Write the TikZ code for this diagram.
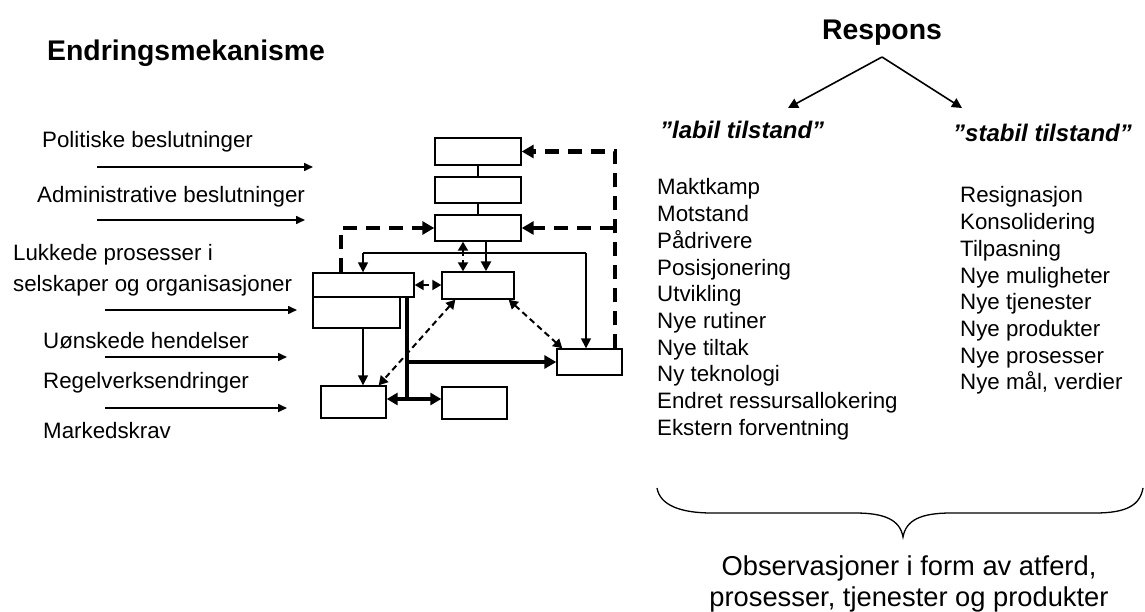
\documentclass[tikz,border=0pt]{standalone}
\usepackage{fontspec}
\setmainfont{Liberation Sans}
\usetikzlibrary{arrows.meta,calc}

\begin{document}
\begin{tikzpicture}[x=1pt,y=-1pt,
  box/.style={draw, line width=1.4pt, fill=white, inner sep=0pt},
  thinline/.style={line width=1.6pt},
  midline/.style={line width=2.6pt},
  heavyline/.style={line width=4.2pt},
  fbdash/.style={line width=4.2pt, dash pattern=on 14pt off 9pt},
  lightdash/.style={line width=2pt, dash pattern=on 6pt off 4pt},
  tip/.style={-{Triangle[length=10pt,width=10pt]}},
  slimtip/.style={-{Triangle[length=9pt,width=8pt]}},
  bigtip/.style={-{Triangle[length=12pt,width=13pt]}},
  twotip/.style={{Triangle[length=9pt,width=10pt]}-{Triangle[length=9pt,width=10pt]}},
  bigtwotip/.style={{Triangle[length=11pt,width=12pt]}-{Triangle[length=11pt,width=12pt]}},
  label/.style={anchor=base west, inner sep=0pt, font=\fontsize{22.3}{26.7}\selectfont},
  title/.style={inner sep=0pt, font=\fontsize{28.4}{33}\selectfont\bfseries},
  state/.style={anchor=base west, inner sep=0pt, font=\fontsize{24}{29}\selectfont\bfseries\itshape},
  bottomtext/.style={anchor=base, inner sep=0pt, font=\fontsize{27.3}{32}\selectfont}
]
\useasboundingbox (0,0) rectangle (1145,612);

% headings
\node[title, anchor=base west] (mech) at (47,61) {Endringsmekanisme};
\node[title, anchor=base] (resp) at (882,40) {Respons};

% external drivers with their arrows
\node[label] (d1) at (42,148) {Politiske beslutninger};
\node[label] (d2) at (37,203) {Administrative beslutninger};
\node[label] (d3a) at (13,261) {Lukkede prosesser i};
\node[label] (d3b) at (13,291) {selskaper og organisasjoner};
\node[label] (d4) at (43,348) {Uønskede hendelser};
\node[label] (d5) at (43,388) {Regelverksendringer};
\node[label] (d6) at (43,438) {Markedskrav};

\coordinate (a1s) at (97,167);  \coordinate (a1e) at (313,167);
\coordinate (a2s) at (97,220);  \coordinate (a2e) at (305,220);
\coordinate (a3s) at (105,310); \coordinate (a3e) at (297,310);
\coordinate (a4s) at (105,357); \coordinate (a4e) at (287,357);
\coordinate (a5s) at (105,408); \coordinate (a5e) at (287,408);
\foreach \i in {1,...,5}{
  \draw[thinline,slimtip] (a\i s) -- (a\i e);
}

% mechanism boxes
\node[box, minimum width=86pt, minimum height=27pt] (B1) at (478,151.5) {};
\node[box, minimum width=86pt, minimum height=26pt] (B2) at (478,190) {};
\node[box, minimum width=86pt, minimum height=26pt] (B3) at (478,228) {};
\node[box, minimum width=87pt, minimum height=31pt] (B5) at (356.5,312.5) {};
\node[box, minimum width=101pt, minimum height=24pt] (B4) at (363.5,285) {};
\node[box, minimum width=72pt, minimum height=27pt] (B6) at (478,285.5) {};
\node[box, minimum width=65pt, minimum height=26pt] (B7) at (589.5,362) {};
\node[box, minimum width=65pt, minimum height=32pt] (B8) at (353.5,402) {};
\node[box, minimum width=65pt, minimum height=32pt] (B9) at (474.5,403) {};

% stacked links at the top
\draw[line width=1.3pt] (B1.south) -- (B2.north);
\draw[line width=1.3pt] (B2.south) -- (B3.north);

% feedback loops (heavy dashed)
\coordinate (fbR) at ($(B7.north east)+(-8,0)$);
\coordinate (fbJ) at (614,228);
\draw[fbdash,bigtip] (fbR) |- (B1.east);
\draw[fbdash,bigtip] (fbJ) -- (B3.east);
\coordinate (fbL) at ($(B4.north west)+(29,0)$);
\draw[fbdash,bigtip] (fbL) |- (B3.west);

% distribution from B3
\coordinate (dS) at ($(B3.south)+(8,0)$);
\coordinate (dJ) at (486,253);
\coordinate (dL) at (363,253);
\coordinate (dR) at (586,253);
\draw[midline,tip] (dS) -- (dS |- B6.north);
\draw[thinline] (dL) -- (dR);
\draw[thinline,tip] (dL) -- (dL |- B4.north);
\draw[thinline,tip] (dR) -- (dR |- B7.north);

% dashed two-way links
\coordinate (e1) at ($(B3.south)+(-15,0)$);
\draw[lightdash,twotip] (e1) -- (e1 |- B6.north);
\draw[lightdash,twotip] (B4.east) -- (B6.west |- B4.east);
\coordinate (e2) at ($(B6.south west)+(14,0)$);
\coordinate (e3) at ($(B8.north east)+(-8,0)$);
\draw[lightdash,twotip] (e2) -- (e3);
\coordinate (e4) at ($(B6.south east)+(-6,0)$);
\coordinate (e5) at ($(B7.north west)+(6,0)$);
\draw[lightdash,twotip] (e4) -- (e5);

% B5 down to B8
\coordinate (f1) at (363,328);
\draw[thinline,tip] (f1) -- (f1 |- B8.north);

% heavy branch out of B4
\coordinate (h1) at (407,297);
\coordinate (h2) at (407,399);
\coordinate (h3) at (407,362);
\draw[heavyline] (h1) -- (h2);
\draw[heavyline,bigtip] (h3) -- (B7.west);
\draw[heavyline,bigtwotip] (B8.east |- h2) -- (B9.west |- h2);

% response side
\coordinate (rA) at (882,57);
\coordinate (rL) at (788,108);
\coordinate (rR) at (962,108);
\draw[thinline,tip] (rA) -- (rL);
\draw[thinline,tip] (rA) -- (rR);

\node[state] (lab) at (660,139) {”labil tilstand”};
\node[state] (stab) at (953,142) {”stabil tilstand”};

\foreach \t [count=\k] in {Maktkamp,Motstand,Pådrivere,Posisjonering,Utvikling,Nye rutiner,Nye tiltak,Ny teknologi,Endret ressursallokering,Ekstern forventning}{
  \node[label] (L\k) at (657,{195+(\k-1)*26.7}) {\t};
}
\foreach \t [count=\k] in {Resignasjon,Konsolidering,Tilpasning,Nye muligheter,Nye tjenester,Nye produkter,Nye prosesser,{Nye mål, verdier}}{
  \node[label] (R\k) at (960,{203+(\k-1)*26.7}) {\t};
}

% brace gathering the responses
\draw[line width=1.3pt] (657,488) .. controls (660,505) and (680,513) .. (712,513)
  -- (855,513) .. controls (885,513) and (900,520) .. (903,537)
  .. controls (906,520) and (921,513) .. (951,513)
  -- (1095,513) .. controls (1127,513) and (1140,505) .. (1143,488);

\node[bottomtext] (o1) at (909,575) {Observasjoner i form av atferd,};
\node[bottomtext] (o2) at (909,606) {prosesser, tjenester og produkter};
\end{tikzpicture}
\end{document}
